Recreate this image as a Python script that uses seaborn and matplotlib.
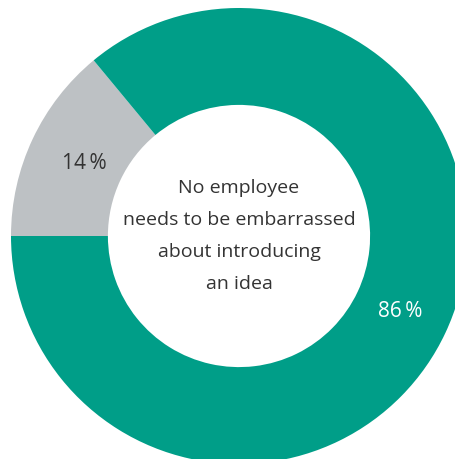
import matplotlib
matplotlib.use("Agg")
import matplotlib.pyplot as plt
import seaborn as sns

# Survey shares
categories = ["Disagree", "Agree"]
shares = [14, 86]
center_lines = ["No employee", "needs to be embarrassed", "about introducing", "an idea"]

sns.set_theme(style="white")
plt.rcParams["font.family"] = ["Open Sans", "DejaVu Sans"]

colors = ["#BDC1C4", "#009E88"]
label_colors = ["#333333", "#FFFFFF"]
label_radius = [0.75, 0.78]

fig = plt.figure(figsize=(4.56, 4.59), dpi=100)
# Ring is slightly larger than the canvas on the right and bottom
ax = fig.add_axes([11 / 456, (459 - 464) / 459, 456 / 456, 456 / 459])

wedges, texts, autotexts = ax.pie(
    shares,
    colors=colors,
    startangle=180,
    counterclock=False,
    radius=1.0,
    wedgeprops=dict(width=0.425, edgecolor="none", linewidth=0),
    autopct=lambda p: f"{p:.0f}\u2009%",
    pctdistance=1.0,
    textprops=dict(fontsize=15, fontweight="normal"),
)
for t, c, r in zip(autotexts, label_colors, label_radius):
    x, y = t.get_position()
    t.set_position((x * r, y * r))
    t.set_color(c)

line_step = 31.7 / 228
n = len(center_lines)
for i, line in enumerate(center_lines):
    y = ((n - 1) / 2 - i) * line_step
    ax.text(0, y, line, ha="center", va="center", fontsize=14,
            fontweight="normal", color="#333333")

ax.set_xlim(-1, 1)
ax.set_ylim(-1, 1)
ax.set_aspect("equal")
ax.axis("off")

fig.savefig("out.png", dpi=100)
